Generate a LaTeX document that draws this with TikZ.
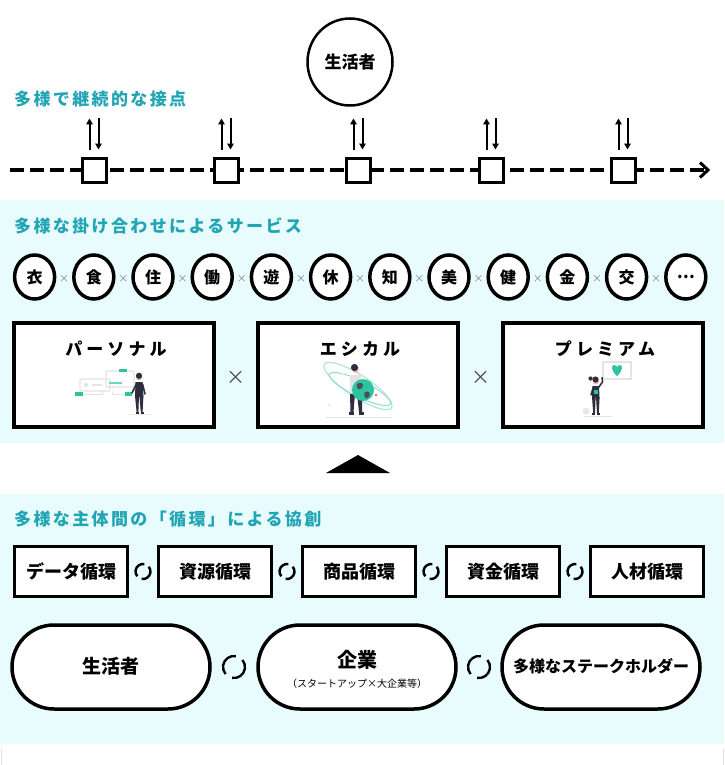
\documentclass[tikz,border=0pt]{standalone}
\usepackage{fontspec}
\setmainfont{Noto Sans CJK JP}
\newfontfamily\headfont{Noto Sans CJK JP}[LetterSpace=14]
\newfontfamily\widefont{Noto Sans CJK JP}[LetterSpace=24]
\usetikzlibrary{shapes.geometric,arrows.meta,calc}

\definecolor{cyanbg}{HTML}{E9FCFD}
\definecolor{headteal}{HTML}{21A5B5}
\definecolor{figdark}{HTML}{2F2E41}
\definecolor{ilteal}{HTML}{2EC4A2}
\definecolor{ilgray}{HTML}{E3E3E3}
\definecolor{skin}{HTML}{F2B6A8}

\tikzset{
  heading/.style={anchor=west, inner sep=0, text=headteal, font=\fontsize{17}{17}\headfont\bfseries},
  marker/.style={draw, line width=3pt, fill=white, minimum size=24pt, inner sep=0},
  flow/.style={line width=2pt, -{Triangle[length=6pt,width=6.5pt]}},
  kanji/.style={draw, ellipse, line width=3.5pt, fill=white, minimum width=40pt, minimum height=44pt, inner sep=0, font=\fontsize{16}{16}\selectfont\bfseries},
  small times/.style={inner sep=0, text=gray, font=\fontsize{10}{10}\selectfont},
  card/.style={draw, line width=3.5pt, fill=white, minimum width=200pt, minimum height=104pt, inner sep=0},
  cardtitle/.style={inner sep=0, font=\fontsize{17}{17}\widefont\bfseries},
  big times/.style={inner sep=0, text=black!70, font=\fontsize{19}{19}\selectfont},
  cyclebox/.style={draw, line width=3.5pt, fill=white, minimum width=113pt, minimum height=50pt, inner sep=0, font=\fontsize{18}{18}\selectfont\bfseries},
  pill/.style={draw, line width=3.5pt, fill=white, rounded corners=42pt, minimum width=198pt, minimum height=84pt, inner sep=0},
  pics/cyc/.style={code={
    \draw[line width=2.4pt] (80:#1) arc[start angle=80, end angle=220, radius=#1];
    \draw[line width=2.4pt] (260:#1) arc[start angle=260, end angle=400, radius=#1];
  }},
}

\begin{document}
\begin{tikzpicture}[x=1pt, y=-1pt]
\useasboundingbox (0,0) rectangle (724,765);
\fill[white] (0,0) rectangle (724,765);

% background bands
\fill[cyanbg] (0,200) rectangle (724,443);
\fill[cyanbg] (0,494) rectangle (724,744);
\draw[gray!25, line width=0.8pt, rounded corners=4pt] (1,749) -- (1,770) (723,770) -- (723,749);

% ---------- consumer and touch points ----------
\node[draw, ellipse, line width=2.5pt, minimum width=85pt, minimum height=87pt, inner sep=0,
      font=\fontsize{17}{17}\selectfont\bfseries] (person) at (350,62) {生活者};
\node[heading] (h1) at (14,99) {多様で継続的な接点};

\coordinate (tlstart) at (10,170);
\coordinate (tlend) at (707,170);
\draw[line width=4pt, dash pattern=on 14pt off 6pt] (tlstart) -- (tlend);
\draw[line width=3pt, line join=miter] (700,162.5) -- (708,170) -- (700,177.5);

\foreach \x [count=\i] in {94,226,358,491,623}{
  \node[marker] (m\i) at (\x,170) {};
  \draw[flow] ([xshift=-4.5pt, yshift=7pt]m\i.north) -- ++(0,-31);
  \draw[flow] ([xshift=4.5pt, yshift=38pt]m\i.north) -- ++(0,31);
}

% ---------- services ----------
\node[heading] (h2) at (14,226) {多様な掛け合わせによるサービス};

\foreach \t [count=\i] in {衣,食,住,働,遊,休,知,美,健,金,交,…}{
  \node[kanji] (k\i) at ({34.6+59.2*(\i-1)},277) {\t};
}
\foreach \i [evaluate=\i as \j using int(\i+1)] in {1,...,11}{
  \node[small times] (kx\i) at ($(k\i)!0.5!(k\j)+(0,2)$) {×};
}

\node[card] (c1) at (114,375) {};
\node[card] (c2) at (358,375) {};
\node[card] (c3) at (603,375) {};
\node[cardtitle] (t1) at (116,349) {パーソナル};
\node[cardtitle] (t2) at (360,349) {エシカル};
\node[cardtitle] (t3) at (605,349) {プレミアム};
\node[big times] (cx1) at (236,378) {×};
\node[big times] (cx2) at (481,378) {×};

% personal: screens with data tags and a standing figure
\draw[ilgray, line width=1.2pt, rounded corners=1pt] (80,379) rectangle (110,391);
\draw[ilgray, line width=1.2pt, rounded corners=1pt] (106,371) rectangle (134,387);
\draw[ilgray, line width=1pt] (84,394) -- (102,394) -- (102,391);
\draw[ilgray, line width=1pt] (112,391) -- (112,394) -- (125,394);
\fill[ilgray] (86,385) circle (2.2);
\fill[ilgray] (92,384) rectangle (102,386);
\fill[ilteal] (119,368.5) rectangle (127,372);
\fill[ilteal!70] (109,382.3) rectangle (122,384);
\fill[ilteal] (75,392) rectangle (83,395.5);
\fill[ilteal] (125,392) rectangle (132,395.5);
\draw[ilgray!70, line width=0.6pt] (128,414) -- (152,414);
\fill[figdark] (135.5,382) -- (142.5,382) -- (143.5,397) -- (135,397) -- cycle;
\fill[figdark] (135,396) -- (139,396) -- (138.4,412) -- (136.6,412) -- cycle;
\fill[figdark] (139.4,396) -- (143.4,396) -- (142.6,412) -- (140.8,412) -- cycle;
\draw[figdark, line width=1.6pt, line cap=round] (136.5,384) -- (132,393);
\draw[figdark, line width=1.6pt, line cap=round] (142.5,384) -- (145,394);
\fill[skin] (139,377.5) circle (3);
\fill[figdark] (139,375.8) circle (3.1);
\fill[figdark] (135.5,412) rectangle (138.6,413.8);
\fill[figdark] (140.6,412) rectangle (143.8,413.8);

% ethical: figure carrying the globe with orbits
\draw[ilteal!40, line width=1.2pt, rotate around={-33:(358,386)}] (358,386) ellipse (40 and 11);
\draw[ilteal!55, line width=1pt, rotate around={-26:(360,389)}] (360,389) ellipse (34 and 8);
\draw[ilgray, line width=0.7pt] (326,417) -- (392,417);
\fill[ilgray!80] (343,374) circle (1.3);
\fill[ilgray!80] (329,405) circle (1.3);
\fill[red!65] (376,395) circle (1.3);
\fill[ilgray] (350,375) rectangle (361,393);
\fill[figdark] (350,394) -- (355,394) -- (353.5,412) -- (350.5,412) -- cycle;
\fill[figdark] (357,394) -- (362,394) -- (362,412) -- (359,412) -- cycle;
\fill[figdark] (348.5,412) rectangle (353.5,414.5);
\fill[figdark] (358.5,412) rectangle (363.5,414.5);
\fill[skin] (355.5,369.5) circle (3.3);
\fill[figdark] (354.5,367.5) circle (3.6);
\fill[ilteal] (363,390) circle (11);
\fill[figdark!85] (357,384) .. controls (361,381) and (365,384) .. (362,388) .. controls (359,391) and (356,389) .. cycle;
\fill[figdark!85] (365,392) .. controls (369,390) and (372,394) .. (368,398) .. controls (365,399) and (363,396) .. cycle;

% premium: figure with a heart message
\draw[ilgray, line width=1.2pt, fill=white] (603,362) rectangle (631,379);
\fill[ilteal] (617,376) .. controls (611,371) and (611,365) .. (614,365)
  .. controls (616,365) and (617,367) .. (617,367)
  .. controls (617,367) and (618,365) .. (620,365)
  .. controls (623,365) and (623,371) .. (617,376) -- cycle;
\fill[ilgray!80] (586,411) circle (3.5);
\draw[ilgray, line width=0.6pt] (584,416) -- (612,416);
\fill[figdark] (592.5,386) -- (599,386) -- (599.5,398) -- (592,398) -- cycle;
\fill[figdark] (592,397) -- (595.6,397) -- (595,413) -- (593.2,413) -- cycle;
\fill[figdark] (596,397) -- (599.6,397) -- (598.8,413) -- (597,413) -- cycle;
\fill[ilteal] (594,390) rectangle (598,394);
\draw[figdark, line width=1.5pt, line cap=round] (598.5,387.5) -- (602.5,382) -- (602,377.5);
\draw[figdark, line width=1.5pt, line cap=round] (593,388) -- (591,395);
\fill[skin] (596,381.5) circle (3);
\fill[figdark] (595.5,379.5) circle (3.1);
\fill[figdark] (590.5,378.5) circle (2.1);
\fill[figdark] (591.5,413) rectangle (595.3,415);
\fill[figdark] (596.5,413) rectangle (600.3,415);

% upward triangle between sections
\fill (326,473) -- (358,455) -- (390,473) -- cycle;

% ---------- co-creation ----------
\node[heading] (h3) at (14,519) {多様な主体間の「循環」による協創};

\node[cyclebox] (b1) at (71,571.5) {データ循環};
\node[cyclebox] (b2) at (215,571.5) {資源循環};
\node[cyclebox] (b3) at (359,571.5) {商品循環};
\node[cyclebox] (b4) at (503,571.5) {資金循環};
\node[cyclebox] (b5) at (647,571.5) {人材循環};
\foreach \i [evaluate=\i as \j using int(\i+1)] in {1,...,4}{
  \pic at ($(b\i.east)!0.5!(b\j.west)$) {cyc=7.5pt};
}

\node[pill] (p1) at (111,667) {};
\node[pill] (p2) at (357,667) {};
\node[pill] (p3) at (601,667) {};
\node[inner sep=0, font=\fontsize{19}{19}\selectfont\bfseries] (p1t) at (111,666) {生活者};
\node[inner sep=0, font=\fontsize{20}{20}\selectfont\bfseries] (p2t) at (357,660) {企業};
\node[inner sep=0, font=\fontsize{10}{10}\selectfont] (p2s) at (357,684) {（スタートアップ×大企業等）};
\node[inner sep=0, font=\fontsize{16}{16}\selectfont\bfseries] (p3t) at (601,666) {多様なステークホルダー};
\pic at ($(p1.east)!0.5!(p2.west)$) {cyc=11pt};
\pic at ($(p2.east)!0.5!(p3.west)$) {cyc=11pt};
\end{tikzpicture}
\end{document}
